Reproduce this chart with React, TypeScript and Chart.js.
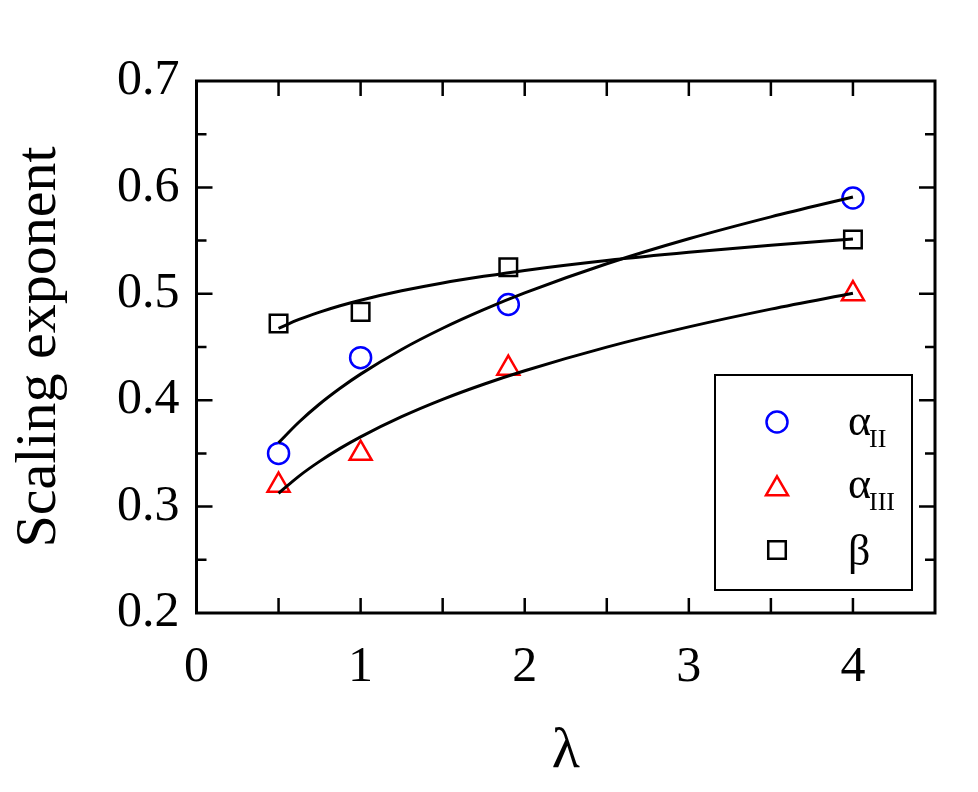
import React, { useEffect, useRef } from 'react';
import { Chart, registerables } from 'chart.js';

Chart.register(...registerables);

// ---- data ----
const lambdaValues = [0.5, 1, 1.9, 4];
const alphaII = [0.35, 0.44, 0.49, 0.59];
const alphaIII = [0.32, 0.35, 0.43, 0.5];
const betaVals = [0.472, 0.483, 0.525, 0.551];

// fitted curves
const fitLambda = [0.5, 0.625, 0.75, 0.875, 1, 1.25, 1.5, 1.75, 2, 2.5, 3, 3.5, 4];
const fitAlphaII = [0.36, 0.3795, 0.3964, 0.4112, 0.4245, 0.4477, 0.4676, 0.4851, 0.5008, 0.5282, 0.5517, 0.5723, 0.591];
const fitAlphaIII = [0.3125, 0.3287, 0.3425, 0.3547, 0.3656, 0.3845, 0.4008, 0.415, 0.4277, 0.4499, 0.4689, 0.4856, 0.5005];
const fitBeta = [0.4676, 0.4759, 0.4828, 0.4888, 0.494, 0.5028, 0.5102, 0.5164, 0.522, 0.5313, 0.539, 0.5457, 0.5515];

// tick marks
const xTickMarks = [0.5, 1, 1.5, 2, 2.5, 3, 3.5, 4];
const yMajorMarks = [0.3, 0.4, 0.5, 0.6];
const yMinorMarks = [0.25, 0.35, 0.45, 0.55, 0.65];

// legend
const legendSymbols = ['α', 'α', 'β'];
const legendSubs = ['II', 'III', ''];
const legendStyles = ['circle', 'triangle', 'rect'];
const legendColors = ['#0000ff', '#ff0000', '#000000'];

const FONT = '"Liberation Serif", "Times New Roman", serif';

function drawMarker(ctx: CanvasRenderingContext2D, style: string, x: number, y: number, color: string) {
  ctx.save();
  ctx.strokeStyle = color;
  ctx.lineWidth = 2.5;
  ctx.beginPath();
  if (style === 'circle') {
    ctx.arc(x, y, 10.5, 0, Math.PI * 2);
  } else if (style === 'triangle') {
    const r = 12.7;
    for (let i = 0; i < 3; i++) {
      const a = (i * 2 * Math.PI) / 3;
      const px = x + Math.sin(a) * r;
      const py = y - Math.cos(a) * r;
      if (i === 0) ctx.moveTo(px, py);
      else ctx.lineTo(px, py);
    }
    ctx.closePath();
  } else {
    const s = 12.4 * Math.SQRT1_2;
    ctx.rect(x - s, y - s, 2 * s, 2 * s);
  }
  ctx.stroke();
  ctx.restore();
}

const framePlugin = {
  id: 'frameTicksLegend',
  afterDatasetsDraw(chart: any) {
    const { ctx, chartArea: a, scales } = chart;
    const x = scales.x;
    const y = scales.y;
    ctx.save();
    ctx.strokeStyle = '#000';
    ctx.lineWidth = 2.5;
    ctx.beginPath();
    for (const v of xTickMarks) {
      const px = x.getPixelForValue(v);
      ctx.moveTo(px, a.bottom);
      ctx.lineTo(px, a.bottom - 15);
      ctx.moveTo(px, a.top);
      ctx.lineTo(px, a.top + 15);
    }
    for (const v of yMajorMarks) {
      const py = y.getPixelForValue(v);
      ctx.moveTo(a.left, py);
      ctx.lineTo(a.left + 16, py);
      ctx.moveTo(a.right, py);
      ctx.lineTo(a.right - 16, py);
    }
    for (const v of yMinorMarks) {
      const py = y.getPixelForValue(v);
      ctx.moveTo(a.left, py);
      ctx.lineTo(a.left + 10, py);
      ctx.moveTo(a.right, py);
      ctx.lineTo(a.right - 10, py);
    }
    ctx.stroke();
    ctx.lineWidth = 3;
    ctx.strokeRect(a.left, a.top, a.right - a.left, a.bottom - a.top);

    // legend box
    const boxR = a.right - 23;
    const boxB = a.bottom - 23;
    const boxW = 197;
    const boxH = 215;
    const boxL = boxR - boxW;
    const boxT = boxB - boxH;
    ctx.fillStyle = '#fff';
    ctx.fillRect(boxL, boxT, boxW, boxH);
    ctx.lineWidth = 2;
    ctx.strokeRect(boxL, boxT, boxW, boxH);

    const rowY = [47, 114, 175];
    const baseY = [60, 123, 190];
    for (let i = 0; i < 3; i++) {
      drawMarker(ctx, legendStyles[i], boxL + 62, boxT + rowY[i], legendColors[i]);
      ctx.fillStyle = '#000';
      ctx.textBaseline = 'alphabetic';
      ctx.textAlign = 'left';
      ctx.font = `44px ${FONT}`;
      const tx = boxL + 133;
      ctx.fillText(legendSymbols[i], tx, boxT + baseY[i]);
      if (legendSubs[i]) {
        const w = ctx.measureText(legendSymbols[i]).width;
        ctx.font = `26px ${FONT}`;
        ctx.fillText(legendSubs[i], tx + w - 2, boxT + baseY[i] + 12);
      }
    }
    ctx.restore();
  },
};

function pts(xs: number[], ys: number[]) {
  return xs.map((v, i) => ({ x: v, y: ys[i] }));
}

export default function App() {
  const ref = useRef<HTMLCanvasElement | null>(null);

  useEffect(() => {
    if (!ref.current) return;
    const pointBase = {
      showLine: false,
      pointBorderWidth: 2.5,
      pointBackgroundColor: 'rgba(0,0,0,0)',
      backgroundColor: 'rgba(0,0,0,0)',
      order: 1,
    };
    const lineBase = {
      showLine: true,
      pointRadius: 0,
      borderColor: '#000',
      borderWidth: 3,
      cubicInterpolationMode: 'monotone' as const,
      fill: false,
      order: 0,
    };
    const chart = new Chart(ref.current, {
      type: 'scatter',
      data: {
        datasets: [
          { ...pointBase, label: 'αII', data: pts(lambdaValues, alphaII), pointStyle: 'circle', pointRadius: 10.5, borderColor: '#0000ff', pointBorderColor: '#0000ff' },
          { ...pointBase, label: 'αIII', data: pts(lambdaValues, alphaIII), pointStyle: 'triangle', pointRadius: 12.7, borderColor: '#ff0000', pointBorderColor: '#ff0000' },
          { ...pointBase, label: 'β', data: pts(lambdaValues, betaVals), pointStyle: 'rect', pointRadius: 12.4, borderColor: '#000', pointBorderColor: '#000' },
          { ...lineBase, label: 'fit αII', data: pts(fitLambda, fitAlphaII) },
          { ...lineBase, label: 'fit αIII', data: pts(fitLambda, fitAlphaIII) },
          { ...lineBase, label: 'fit β', data: pts(fitLambda, fitBeta) },
        ] as any,
      },
      options: {
        responsive: false,
        animation: false,
        devicePixelRatio: 1,
        layout: { padding: { left: 0, top: 81, right: 43, bottom: 0 } },
        plugins: { legend: { display: false }, tooltip: { enabled: false } },
        scales: {
          x: {
            type: 'linear',
            min: 0,
            max: 4.5,
            grid: { display: false, drawTicks: false },
            border: { display: false },
            ticks: {
              stepSize: 1,
              includeBounds: false,
              padding: 25,
              color: '#000',
              font: { family: FONT, size: 50 },
              callback: (v: any) => String(v),
            },
            title: {
              display: true,
              text: 'λ',
              color: '#000',
              font: { family: FONT, size: 58 },
              padding: { top: 0, bottom: 5 },
            },
            afterFit: (s: any) => {
              s.height = 179;
            },
          },
          y: {
            type: 'linear',
            min: 0.2,
            max: 0.7,
            grid: { display: false, drawTicks: false },
            border: { display: false },
            ticks: {
              stepSize: 0.1,
              padding: 17,
              color: '#000',
              font: { family: FONT, size: 50 },
              callback: (v: any) => Number(v).toFixed(1),
            },
            title: {
              display: true,
              text: 'Scaling exponent',
              color: '#000',
              font: { family: FONT, size: 58 },
              padding: { top: 5, bottom: 0 },
            },
            afterFit: (s: any) => {
              s.width = 196.5;
            },
          },
        },
      } as any,
      plugins: [framePlugin],
    });
    return () => chart.destroy();
  }, []);

  return (
    <div style={{ position: 'absolute', left: 0, top: 0, width: 978, height: 792, background: '#fff' }}>
      <canvas ref={ref} width={978} height={792} style={{ display: 'block' }} />
    </div>
  );
}
